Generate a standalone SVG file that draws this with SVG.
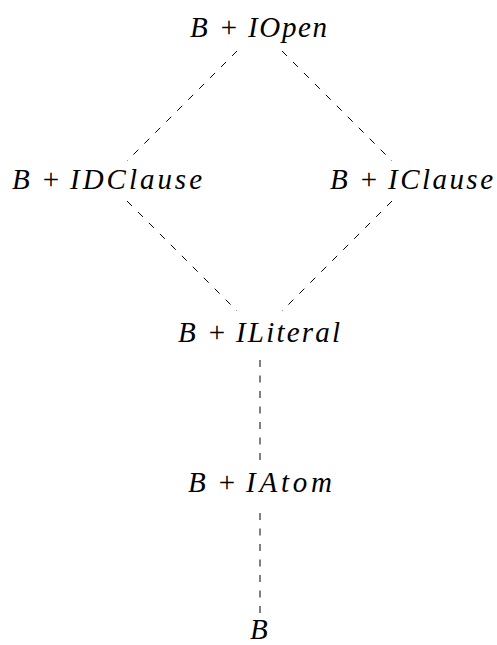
<svg xmlns="http://www.w3.org/2000/svg" width="497" height="645" viewBox="0 0 497 645">
<style>
text{font-family:"Liberation Serif","DejaVu Serif",serif;font-size:29px;font-style:italic;fill:#000}
.r{font-style:normal;text-anchor:middle}
.e{stroke:#000;stroke-width:1;stroke-dasharray:7,8.5;fill:none}
</style>
<rect width="497" height="645" fill="#fff"/>
<g id="connectors">
<line class="e" x1="237" y1="51" x2="127" y2="161"/>
<line class="e" x1="282" y1="51" x2="392" y2="161"/>
<line class="e" x1="127" y1="201" x2="237" y2="311"/>
<line class="e" x1="392" y1="201" x2="282" y2="311"/>
<line class="e" x1="260" y1="360" x2="260" y2="464"/>
<line class="e" x1="260" y1="513" x2="260" y2="617"/>
</g>
<g id="n-iopen"><text x="190" y="37">B</text><text class="r" x="229" y="37">+</text><text x="248" y="37" textLength="79" lengthAdjust="spacing">IOpen</text></g>
<g id="n-idclause"><text x="12" y="189">B</text><text class="r" x="51" y="189">+</text><text x="70" y="189" textLength="132" lengthAdjust="spacing">IDClause</text></g>
<g id="n-iclause"><text x="330" y="189">B</text><text class="r" x="369" y="189">+</text><text x="388" y="189" textLength="105" lengthAdjust="spacing">IClause</text></g>
<g id="n-iliteral"><text x="178" y="342">B</text><text class="r" x="217" y="342">+</text><text x="236" y="342" textLength="104" lengthAdjust="spacing">ILiteral</text></g>
<g id="n-iatom"><text x="188" y="492">B</text><text class="r" x="227" y="492">+</text><text x="246" y="492" textLength="86" lengthAdjust="spacing">IAtom</text></g>
<g id="n-b"><text x="250" y="639">B</text></g>
</svg>
